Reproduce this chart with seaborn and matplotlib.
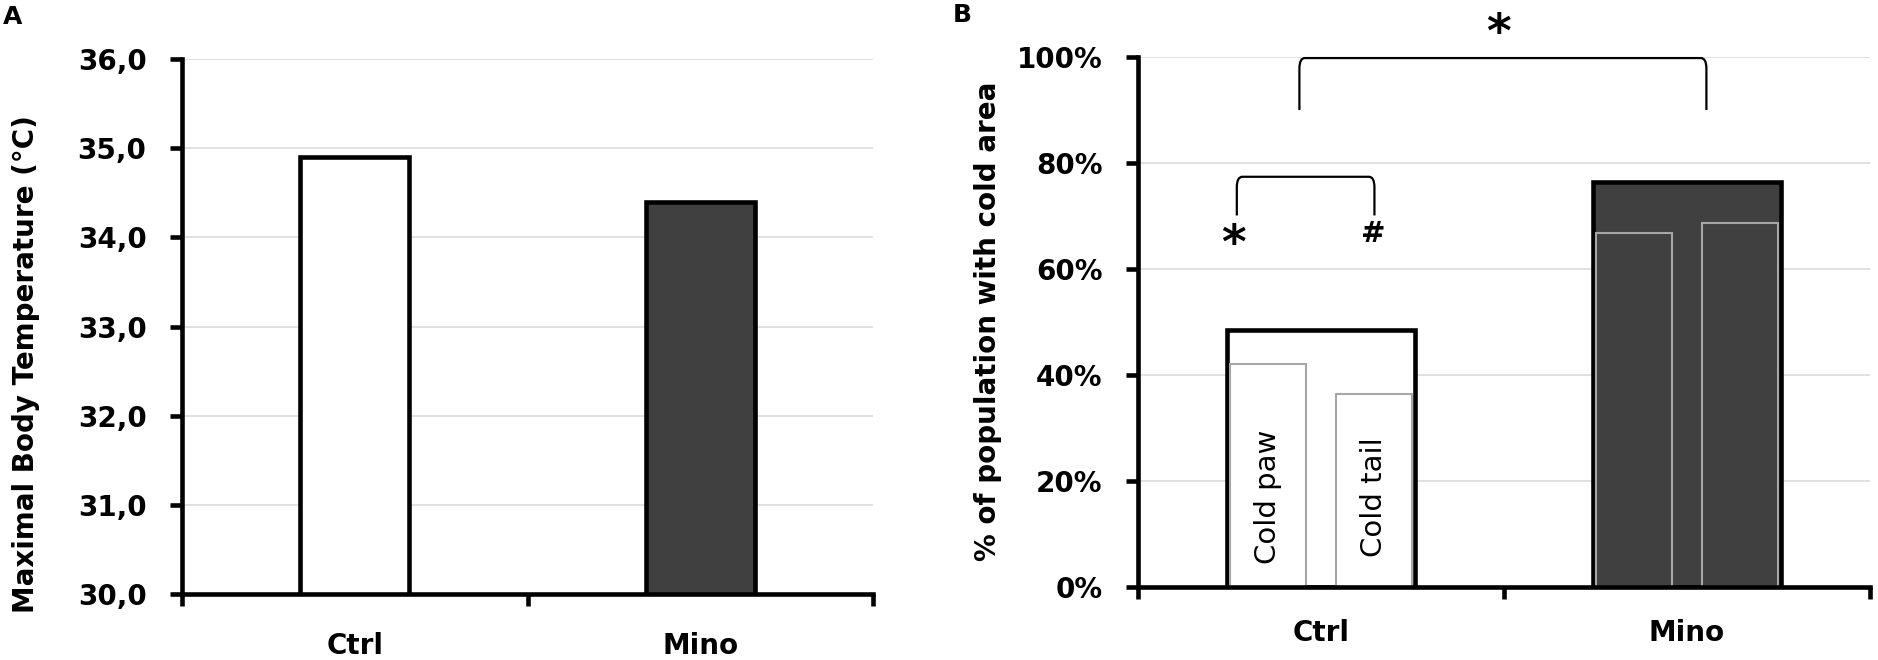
import pandas as pd
import matplotlib.pyplot as plt
from matplotlib.path import Path
from matplotlib.patches import PathPatch
import seaborn as sns

# =======================
# Data
# =======================
groups = ["Ctrl", "Mino"]
max_temp = [34.9, 34.4]                 # panel A, degrees C
temp_ticks = [30, 31, 32, 33, 34, 35, 36]

cold_any = [0.485, 0.765]               # panel B, whole bar
areas = ["Cold paw", "Cold tail"]
cold_paw = [0.42, 0.667]
cold_tail = [0.365, 0.686]
pct_ticks = [0, 0.2, 0.4, 0.6, 0.8, 1.0]

bar_colors = ["white", "#404040"]
inner_edge = "#a6a6a6"
grid_color = "#d9d9d9"
LW = 3.3          # spine / bar edge width
FS = 20

sns.set_style("ticks")
plt.rcParams['font.family'] = ['DejaVu Sans']
plt.rcParams['font.weight'] = 'bold'
plt.rcParams['axes.labelweight'] = 'bold'
for key in ['text.color', 'axes.labelcolor', 'xtick.color', 'ytick.color']:
    plt.rcParams[key] = 'black'

fig = plt.figure(figsize=(18.78, 6.6), dpi=100)
axA = fig.add_axes([182 / 1878, 66 / 660, 691 / 1878, 535 / 660])
axB = fig.add_axes([1138 / 1878, 73 / 660, 732 / 1878, 530 / 660])


def style_axis(ax, xpad):
    sns.despine(ax=ax)
    for side in ["left", "bottom"]:
        ax.spines[side].set_linewidth(LW)
        ax.spines[side].set_color("black")
    ax.yaxis.grid(True, color=grid_color, linewidth=1.1)
    ax.set_axisbelow(True)
    ax.set_xlabel("")
    ax.set_ylabel("")
    ax.set_xlim(-0.5, len(groups) - 0.5)
    # category boundaries carry the tick marks, centres carry the labels
    ax.set_xticks([i - 0.5 for i in range(len(groups) + 1)])
    ax.set_xticklabels([])
    ax.set_xticks(range(len(groups)), minor=True)
    ax.set_xticklabels(groups, minor=True, fontweight="bold")
    ax.tick_params(axis="x", which="major", length=8.6, width=LW, direction="out", color="black")
    ax.tick_params(axis="x", which="minor", length=0, pad=xpad, labelsize=FS,
                   labelcolor="black")
    ax.tick_params(axis="y", which="major", length=8.6, width=LW, direction="out",
                   color="black", labelcolor="black", labelsize=FS, pad=17)


def bracket(ax, x0, x1, ytop, ybot, rx, ry):
    verts = [(x0, ybot), (x0, ytop - ry), (x0, ytop), (x0 + rx, ytop),
             (x1 - rx, ytop), (x1, ytop), (x1, ytop - ry), (x1, ybot)]
    codes = [Path.MOVETO, Path.LINETO, Path.CURVE3, Path.CURVE3,
             Path.LINETO, Path.CURVE3, Path.CURVE3, Path.LINETO]
    ax.add_patch(PathPatch(Path(verts, codes), fill=False, lw=1.6,
                           edgecolor="black", clip_on=False))


# =======================
# A. Maximal body temperature
# =======================
sns.barplot(x=groups, y=max_temp, hue=groups, palette=bar_colors, saturation=1,
            edgecolor="black", linewidth=LW, width=0.316, errorbar=None,
            legend=False, ax=axA)
axA.set_ylim(30, 36)
axA.set_yticks(temp_ticks)
axA.set_yticklabels([f"{t:.1f}".replace(".", ",") for t in temp_ticks])
style_axis(axA, 27)

fig.text(26 / 1878, 1 - 364 / 660, "Maximal Body Temperature (°C)", rotation=90,
         ha="center", va="center", fontsize=FS, fontweight="bold")
fig.text(3 / 1878, 1 - 5 / 660, "A", ha="left", va="top", fontsize=18, fontweight="bold")

# =======================
# B. Share of animals with a cold area
# =======================
sns.barplot(x=groups, y=cold_any, hue=groups, palette=bar_colors, saturation=1,
            edgecolor="black", linewidth=LW, width=0.515, errorbar=None,
            legend=False, ax=axB)

inner = pd.DataFrame({
    "group": groups * 2,
    "area": [areas[0]] * len(groups) + [areas[1]] * len(groups),
    "value": cold_paw + cold_tail,
})
sns.barplot(data=inner, x="group", y="value", hue="area", order=groups,
            palette=["white", "white"], saturation=1, edgecolor=inner_edge,
            linewidth=1.5, width=0.58, gap=0.286, dodge=True, errorbar=None,
            legend=False, ax=axB)
inner_conts = axB.containers[-len(areas):]
for cont in inner_conts:
    for bar, fc in zip(cont, bar_colors):
        bar.set_facecolor(fc)

axB.set_ylim(0, 1)
axB.set_yticks(pct_ticks)
axB.set_yticklabels([f"{int(round(t * 100))}%" for t in pct_ticks])
style_axis(axB, 23)

# labels inside the Ctrl sub-bars
for cont, name in zip(inner_conts, areas):
    bar = cont[0]
    axB.text(bar.get_x() + bar.get_width() / 2, 0.17, name, rotation=90,
             ha="center", va="center", fontsize=21, fontweight="normal")

# significance marks
bracket(axB, -0.230, 0.146, 0.774, 0.701, 0.015, 0.02)
bracket(axB, -0.059, 1.053, 0.998, 0.90, 0.015, 0.02)
axB.text(-0.239, 0.621, "*", ha="center", va="baseline", fontsize=34, fontweight="bold")
axB.text(0.144, 0.651, "#", ha="center", va="baseline", fontsize=21, fontweight="bold")
axB.text(0.485, 1.018, "*", ha="center", va="baseline", fontsize=34,
         fontweight="bold", clip_on=False)

fig.text(988 / 1878, 1 - 321 / 660, "% of population with cold area", rotation=90,
         ha="center", va="center", fontsize=FS, fontweight="bold")
fig.text(953 / 1878, 1 - 3 / 660, "B", ha="left", va="top", fontsize=18, fontweight="bold")

plt.savefig("out.png", dpi=100)
